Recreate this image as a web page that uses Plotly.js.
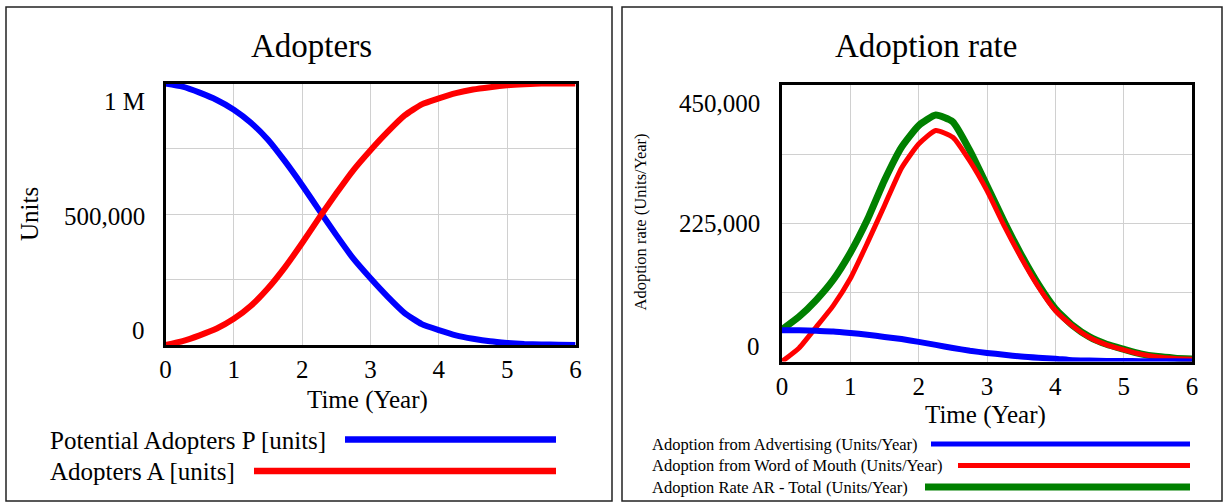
<!DOCTYPE html>
<html>
<head>
<meta charset="utf-8">
<script src="https://cdn.plot.ly/plotly-3.0.1.min.js"></script>
<style>
  html, body { margin: 0; padding: 0; background: #ffffff; }
  #chart { width: 1225px; height: 504px; }
</style>
</head>
<body>
<div id="chart"></div>
<script>
// ---------------- DATA ----------------
const time = [0, 0.25, 0.5, 0.75, 1, 1.25, 1.5, 1.75, 2, 2.25, 2.5, 2.75, 3,
              3.25, 3.5, 3.75, 4, 4.25, 4.5, 4.75, 5, 5.25, 5.5, 5.75, 6];

// Left panel: stocks (units)
const potentialAdopters = [1000000, 988000, 965000, 937000, 900000, 850000, 785000, 702000, 611000,
                           515000, 420000, 330000, 255000, 185000, 122000, 80000, 57000, 37000,
                           24000, 14000, 8000, 4000, 2000, 1000, 0];
const adopters = [0, 15000, 37000, 63000, 100000, 150000, 217000, 298000, 390000,
                  487000, 580000, 669000, 745000, 815000, 878000, 920000, 943000, 963000,
                  977000, 986000, 993000, 997000, 1000000, 1000000, 1000000];

// Right panel: flows (units/year)
const adoptionAdvertising = [51000, 51000, 50000, 49000, 46500, 43500, 40000, 36500, 32000,
                             27000, 22000, 17500, 14000, 11000, 8000, 6000, 4500, 2000,
                             1500, 1000, 800, 500, 400, 300, 200];
const adoptionWordOfMouth = [0, 22000, 56000, 91000, 135000, 193000, 254000, 315000, 354000,
                             376000, 365000, 326000, 278000, 221000, 169000, 122000, 83000, 58000,
                             39000, 27000, 19000, 12000, 7500, 5000, 3500];
const adoptionTotal = [52000, 73000, 100000, 133000, 177000, 231000, 295000, 349000, 384000,
                       401000, 390000, 343000, 286000, 228000, 174000, 126000, 86000, 59000,
                       40000, 28000, 20000, 12500, 8000, 5500, 4000];

const xTickVals = [0, 1, 2, 3, 4, 5, 6];
const leftYTickVals = [0, 500000, 1000000];
const leftYTickText = ['0', '500,000', '1 M'];
const rightYTickVals = [0, 225000, 450000];
const rightYTickText = ['0', '225,000', '450,000'];

const leftNames = ['Potential Adopters P [units]', 'Adopters A [units]'];
const rightNames = ['Adoption from Advertising (Units/Year)',
                    'Adoption from Word of Mouth (Units/Year)',
                    'Adoption Rate AR - Total (Units/Year)'];

// ---------------- STYLE / LAYOUT ----------------
const W = 1225, H = 504;
const FONT = 'Liberation Serif, Times New Roman, serif';
const px = v => v / W;           // pixel -> paper x
const py = v => 1 - v / H;       // pixel -> paper y

const BLUE = '#0000ff', RED = '#ff0000', GREEN = '#008000';
const SM = 0.5;

const traces = [
  { x: time, y: potentialAdopters, name: leftNames[0], xaxis: 'x', yaxis: 'y',
    mode: 'lines', line: { color: BLUE, width: 6, shape: 'spline', smoothing: SM } },
  { x: time, y: adopters, name: leftNames[1], xaxis: 'x', yaxis: 'y',
    mode: 'lines', line: { color: RED, width: 6, shape: 'spline', smoothing: SM } },
  { x: time, y: adoptionTotal, name: rightNames[2], xaxis: 'x2', yaxis: 'y2',
    mode: 'lines', line: { color: GREEN, width: 7, shape: 'spline', smoothing: SM } },
  { x: time, y: adoptionWordOfMouth, name: rightNames[1], xaxis: 'x2', yaxis: 'y2',
    mode: 'lines', line: { color: RED, width: 5, shape: 'spline', smoothing: SM } },
  { x: time, y: adoptionAdvertising, name: rightNames[0], xaxis: 'x2', yaxis: 'y2',
    mode: 'lines', line: { color: BLUE, width: 6, shape: 'spline', smoothing: SM } }
];

const L = { x0: 165.5, x1: 575.5, y0: 83.5, y1: 345 };
const R = { x0: 782, x1: 1192, y0: 85, y1: 361.5 };

function xAxis(dom) {
  return {
    domain: [px(dom.x0), px(dom.x1)], range: [0, 6], tickvals: xTickVals,
    showgrid: true, gridcolor: '#d0d0d0', gridwidth: 1, zeroline: false,
    showline: true, mirror: true, linecolor: '#000000', linewidth: 3,
    ticks: '', ticklabelstandoff: 0,
    tickfont: { family: FONT, size: 25, color: '#000' }, fixedrange: true
  };
}
function yAxis(dom, max, dt) {
  return {
    domain: [py(dom.y1), py(dom.y0)], range: [0, max], dtick: dt, tick0: 0,
    showgrid: true, gridcolor: '#d0d0d0', gridwidth: 1, zeroline: false,
    showline: true, mirror: true, linecolor: '#000000', linewidth: 3,
    ticks: '', showticklabels: false, fixedrange: true
  };
}

const annotations = [];
function txt(text, x, y, size, opts) {
  annotations.push(Object.assign({
    text: text, xref: 'paper', yref: 'paper', x: px(x), y: py(y),
    xanchor: 'center', yanchor: 'middle', showarrow: false,
    font: { family: FONT, size: size, color: '#000' }
  }, opts || {}));
}

// titles
txt('Adopters', 311, 46, 33);
txt('Adoption rate', 925.5, 46, 33);
// axis titles
txt('Units', 29, 214, 25, { textangle: -90 });
txt('Adoption rate (Units/Year)', 640, 222.5, 16.5, { textangle: -90 });
txt('Time (Year)', 367, 400, 25);
txt('Time (Year)', 985, 415, 25);

// y tick labels (Vensim style: end labels pulled inside)
function yTickLabels(vals, texts, yref, xRight, shifts) {
  vals.forEach((v, i) => {
    annotations.push({
      text: texts[i], xref: 'paper', yref: yref, x: px(xRight), y: v,
      xanchor: 'right', yanchor: 'middle', showarrow: false,
      yshift: shifts[i], font: { family: FONT, size: 25, color: '#000' }
    });
  });
}
yTickLabels(leftYTickVals, leftYTickText, 'y', 147, [15, -2, -18.5]);
yTickLabels(rightYTickVals, rightYTickText, 'y2', 762, [15, 0, -18]);

// legends (text then line, Vensim style)
txt(leftNames[0], 48, 440, 25, { xanchor: 'left' });
txt(leftNames[1], 48, 471, 25, { xanchor: 'left' });
txt(rightNames[0], 650, 444, 16.5, { xanchor: 'left' });
txt(rightNames[1], 650, 465.5, 16.5, { xanchor: 'left' });
txt(rightNames[2], 650, 487, 16.5, { xanchor: 'left' });

const shapes = [
  // panel frames
  { type: 'rect', xref: 'paper', yref: 'paper', x0: px(6), x1: px(612), y0: py(7), y1: py(501),
    line: { color: '#222', width: 1.5 } },
  { type: 'rect', xref: 'paper', yref: 'paper', x0: px(622), x1: px(1222), y0: py(7), y1: py(501),
    line: { color: '#222', width: 1.5 } },
  // legend lines
  { type: 'line', xref: 'paper', yref: 'paper', x0: px(345), x1: px(556), y0: py(439.5), y1: py(439.5),
    line: { color: BLUE, width: 6.5 } },
  { type: 'line', xref: 'paper', yref: 'paper', x0: px(254), x1: px(556), y0: py(471), y1: py(471),
    line: { color: RED, width: 6.5 } },
  { type: 'line', xref: 'paper', yref: 'paper', x0: px(931), x1: px(1190), y0: py(444), y1: py(444),
    line: { color: BLUE, width: 5 } },
  { type: 'line', xref: 'paper', yref: 'paper', x0: px(958), x1: px(1190), y0: py(465.5), y1: py(465.5),
    line: { color: RED, width: 5 } },
  { type: 'line', xref: 'paper', yref: 'paper', x0: px(925), x1: px(1190), y0: py(487), y1: py(487),
    line: { color: GREEN, width: 7 } }
];

const layout = {
  width: W, height: H, margin: { l: 0, r: 0, t: 0, b: 0 },
  paper_bgcolor: '#ffffff', plot_bgcolor: '#ffffff',
  showlegend: false,
  xaxis: xAxis(L), yaxis: yAxis(L, 1000000, 250000),
  xaxis2: Object.assign(xAxis(R), { anchor: 'y2' }),
  yaxis2: Object.assign(yAxis(R, 450000, 112500), { anchor: 'x2' }),
  annotations: annotations, shapes: shapes,
  font: { family: FONT, color: '#000' }
};
layout.xaxis.anchor = 'y';
layout.yaxis.anchor = 'x';

Plotly.newPlot('chart', traces, layout, { displayModeBar: false, staticPlot: true });
</script>
</body>
</html>
